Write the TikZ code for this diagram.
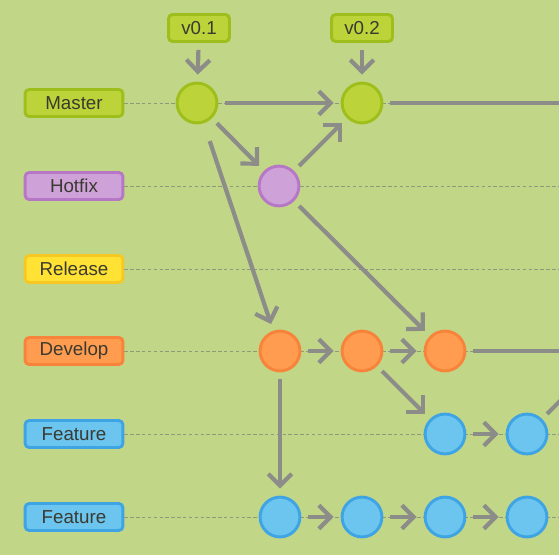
\documentclass[tikz,border=0pt]{standalone}
\usepackage{fontspec}
\setmainfont{Liberation Sans}
\usetikzlibrary{arrows.meta}
\definecolor{bg}{HTML}{C2D688}
\definecolor{txt}{HTML}{3A3A30}
\definecolor{arr}{HTML}{8C8D88}
\definecolor{dsh}{HTML}{8F9A7C}
\definecolor{masF}{HTML}{BCD43A}
\definecolor{masD}{HTML}{9EBE1C}
\definecolor{hotF}{HTML}{CFA1D9}
\definecolor{hotD}{HTML}{B577C6}
\definecolor{relF}{HTML}{FFE233}
\definecolor{relD}{HTML}{F7C824}
\definecolor{devF}{HTML}{FF9C50}
\definecolor{devD}{HTML}{F7843A}
\definecolor{feaF}{HTML}{6CC5EE}
\definecolor{feaD}{HTML}{3EA4E4}
\begin{document}
\begin{tikzpicture}[x=0.03cm,y=-0.03cm,
 lbl/.style={draw=#1D,fill=#1F,line width=2.5pt,rounded corners=3.5pt,minimum width=83.5pt,minimum height=23pt,inner sep=0pt,text=txt,font=\fontsize{16}{19}\selectfont},
 tag/.style={lbl=mas,minimum width=52pt},
 cmt/.style={circle,draw=#1D,fill=#1F,line width=2.5pt,minimum size=34pt,inner sep=0pt},
 dashline/.style={draw=dsh,line width=0.7pt,dash pattern=on 3pt off 2pt},
 link/.style={draw=arr,line width=3.6pt,-{Straight Barb[length=10pt,width=20pt]},shorten >=6pt,shorten <=6pt},
 tail/.style={draw=arr,line width=3.6pt,shorten <=6pt}]
 \clip (0,0) rectangle (559,555);
 \fill[bg] (0,0) rectangle (559,555);
 \foreach \n/\t/\c/\y in {lm/Master/mas/103,lh/Hotfix/hot/186,lr/Release/rel/269,ld/Develop/dev/351,lf/Feature/fea/434,lg/Feature/fea/517}{
  \node[lbl=\c] (\n) at (74,\y) {\t};
  \coordinate (\n e) at (559,\y);
  \draw[dashline] (\n) -- (\n e);
 }
 \coordinate (nx) at (610,351);
 \node[tag] (t1) at (199,28) {v0.1};
 \node[tag] (t2) at (362,28) {v0.2};
 \node[cmt=mas] (m1) at (197,103) {};
 \node[cmt=mas] (m2) at (362,103) {};
 \node[cmt=hot] (h1) at (279,186) {};
 \node[cmt=dev] (d1) at (280,351) {};
 \node[cmt=dev] (d2) at (362,351) {};
 \node[cmt=dev] (d3) at (445,351) {};
 \node[cmt=fea] (f1) at (445,434) {};
 \node[cmt=fea] (f2) at (527,434) {};
 \node[cmt=fea] (g1) at (280,517) {};
 \node[cmt=fea] (g2) at (362,517) {};
 \node[cmt=fea] (g3) at (445,517) {};
 \node[cmt=fea] (g4) at (527,517) {};
 \draw[link] (t1) -- (m1);
 \draw[link] (t2) -- (m2);
 \draw[link] (m1) -- (m2);
 \draw[link] (m1) -- (h1);
 \draw[link] (h1) -- (m2);
 \draw[link,shorten <=16pt] (m1) -- (d1);
 \draw[link] (h1) -- (d3);
 \draw[link] (d1) -- (d2);
 \draw[link] (d2) -- (d3);
 \draw[link] (d2) -- (f1);
 \draw[link] (f1) -- (f2);
 \draw[link] (d1) -- (g1);
 \draw[link] (g1) -- (g2);
 \draw[link] (g2) -- (g3);
 \draw[link] (g3) -- (g4);
 \draw[tail] (m2) -- (lme);
 \draw[tail] (d3) -- (lde);
 \draw[tail] (f2) -- (nx);
\end{tikzpicture}
\end{document}
